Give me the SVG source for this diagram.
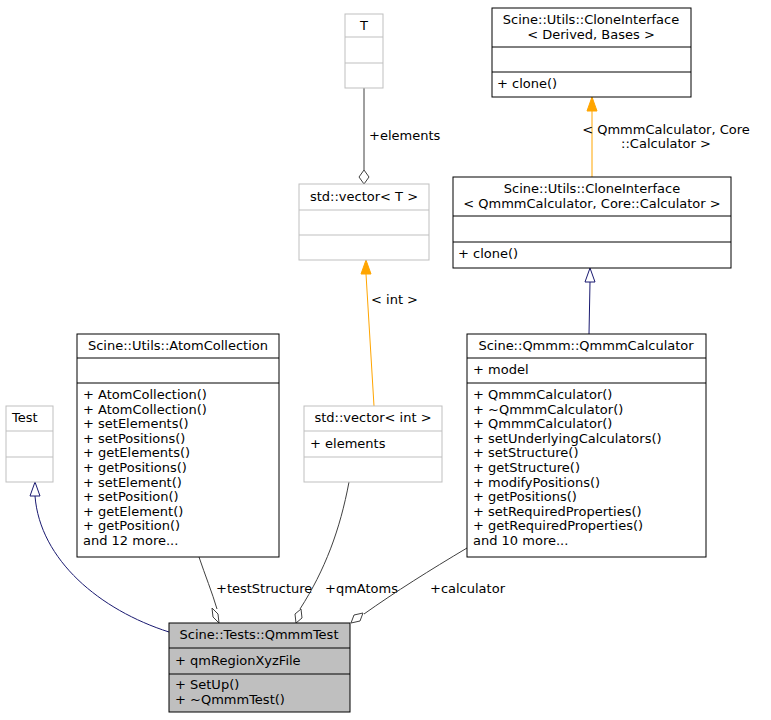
<svg xmlns="http://www.w3.org/2000/svg" width="771" height="720" viewBox="0 0 771 720">
<style>
text{font-family:"DejaVu Sans",sans-serif;font-size:13px;fill:#000}
.m{text-anchor:middle}
.b{fill:#fff;stroke:#000;stroke-width:1}
.g{fill:#fff;stroke:#bfbfbf;stroke-width:1}
.gl{stroke:#bfbfbf}
.bl{stroke:#000}
.e{fill:none;stroke:#404040;stroke-width:1}
.o{fill:none;stroke:#ffa500;stroke-width:1}
.n{fill:none;stroke:#191970;stroke-width:1}
</style>
<rect width="771" height="720" fill="#fff"/>
<g id="edges">
<path class="e" d="M364,88 V170"/><path d="M364,184 l-5,-7 5,-7 5,7z" fill="#fff" stroke="#404040"/>
<text x="369" y="140">+elements</text>
<path class="o" d="M374,406 L366,274"/><path d="M366,260 l-5,14 h10z" fill="#ffa500" stroke="#ffa500"/>
<text x="371" y="304">&lt; int &gt;</text>
<path class="o" d="M592,177 V111"/><path d="M592,97 l-5,14 h10z" fill="#ffa500" stroke="#ffa500"/>
<text x="666" y="134" class="m">&lt; QmmmCalculator, Core</text>
<text x="666" y="148" class="m">::Calculator &gt;</text>
<path class="n" d="M589,334 L590,282"/><path d="M590,268 l-5,14 h10z" fill="#fff" stroke="#191970"/>
<path class="n" d="M169,632 C100,610 40,560 35,496"/><path d="M35,482 l-5,14 h10z" fill="#fff" stroke="#191970"/>
<path class="e" d="M199,557 C205,575 212,592 217,609"/><path d="M219,623 l-6,-6 -1,-9 6,6z" fill="#fff" stroke="#404040"/>
<text x="216" y="593">+testStructure</text>
<path class="e" d="M349,482 C340,530 325,570 300,609"/><path d="M296,623 l-1,-9 6,-5 1,9z" fill="#fff" stroke="#404040"/>
<text x="325" y="593">+qmAtoms</text>
<path class="e" d="M467,548 C430,570 395,592 364,614"/><path d="M351,623 l3,-8 9,-2 -3,8z" fill="#fff" stroke="#404040"/>
<text x="430" y="593">+calculator</text>
</g>
<g id="T"><rect class="g" x="345" y="14" width="38" height="74"/><path class="gl" d="M345,37H383M345,63H383"/><text x="364" y="30" class="m">T</text></g>
<g id="vecT"><rect class="g" x="299" y="184" width="130" height="76"/><path class="gl" d="M299,210H429M299,235H429"/><text x="364" y="201" class="m">std::vector&lt; T &gt;</text></g>
<g id="cloneDB"><rect class="b" x="492" y="8" width="199" height="89"/><path class="bl" d="M492,47H691M492,72H691"/><text x="591" y="24" class="m">Scine::Utils::CloneInterface</text><text x="591" y="39" class="m">&lt; Derived, Bases &gt;</text><text x="497" y="88">+ clone()</text></g>
<g id="cloneQ"><rect class="b" x="453" y="177" width="278" height="91"/><path class="bl" d="M453,216H731M453,242H731"/><text x="592" y="193" class="m">Scine::Utils::CloneInterface</text><text x="592" y="208" class="m">&lt; QmmmCalculator, Core::Calculator &gt;</text><text x="458" y="258">+ clone()</text></g>
<g id="Test"><rect class="g" x="6" y="406" width="47" height="76"/><path class="gl" d="M6,431H53M6,457H53"/><text x="12" y="422">Test</text></g>
<g id="atom"><rect class="b" x="77" y="334" width="202" height="223"/><path class="bl" d="M77,358H279M77,383H279"/><text x="178" y="350" class="m">Scine::Utils::AtomCollection</text>
<text x="83" y="399">+ AtomCollection()</text><text x="83" y="413.6">+ AtomCollection()</text><text x="83" y="428.2">+ setElements()</text><text x="83" y="442.8">+ setPositions()</text><text x="83" y="457.4">+ getElements()</text><text x="83" y="472">+ getPositions()</text><text x="83" y="486.6">+ setElement()</text><text x="83" y="501.2">+ setPosition()</text><text x="83" y="515.8">+ getElement()</text><text x="83" y="530.4">+ getPosition()</text><text x="83" y="545">and 12 more...</text></g>
<g id="vecInt"><rect class="g" x="304" y="406" width="138" height="76"/><path class="gl" d="M304,431H442M304,457H442"/><text x="373" y="422" class="m">std::vector&lt; int &gt;</text><text x="310" y="448">+ elements</text></g>
<g id="qcalc"><rect class="b" x="467" y="334" width="239" height="223"/><path class="bl" d="M467,358H706M467,383H706"/><text x="586" y="350" class="m">Scine::Qmmm::QmmmCalculator</text><text x="473" y="374">+ model</text>
<text x="473" y="399">+ QmmmCalculator()</text><text x="473" y="413.6">+ ~QmmmCalculator()</text><text x="473" y="428.2">+ QmmmCalculator()</text><text x="473" y="442.8">+ setUnderlyingCalculators()</text><text x="473" y="457.4">+ setStructure()</text><text x="473" y="472">+ getStructure()</text><text x="473" y="486.6">+ modifyPositions()</text><text x="473" y="501.2">+ getPositions()</text><text x="473" y="515.8">+ setRequiredProperties()</text><text x="473" y="530.4">+ getRequiredProperties()</text><text x="473" y="545">and 10 more...</text></g>
<g id="qtest"><rect x="169" y="623" width="181" height="89" fill="#bfbfbf" stroke="#000"/><path class="bl" d="M169,648H350M169,674H350"/><text x="259" y="639" class="m">Scine::Tests::QmmmTest</text><text x="175" y="665">+ qmRegionXyzFile</text><text x="175" y="689">+ SetUp()</text><text x="175" y="704">+ ~QmmmTest()</text></g>
</svg>
